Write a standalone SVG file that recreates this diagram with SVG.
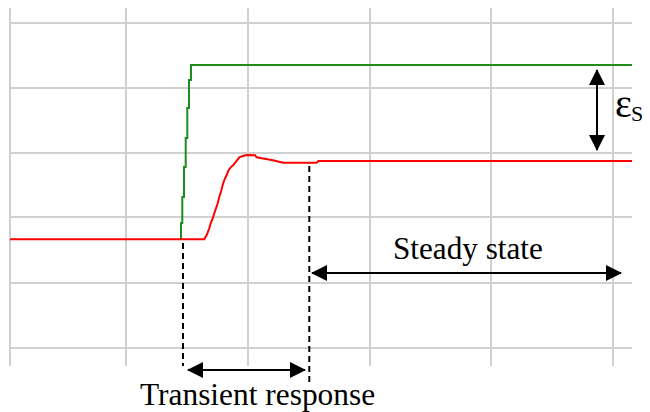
<svg xmlns="http://www.w3.org/2000/svg" width="650" height="412" viewBox="0 0 650 412">
<style>
.grid{stroke:#d0d0d0;stroke-width:2;fill:none}
.sig{fill:none;stroke-width:2;stroke-linejoin:miter}
.dash{stroke:#000;stroke-width:2;stroke-dasharray:6,4;fill:none}
.arr{stroke:#000;stroke-width:2;fill:none;marker-start:url(#ah);marker-end:url(#ah)}
.t{font-family:"Liberation Serif","Times New Roman",serif;fill:#000}
</style>
<defs>
<marker id="ah" viewBox="0 0 16 16" markerWidth="16" markerHeight="16" refX="15" refY="8" orient="auto-start-reverse" markerUnits="userSpaceOnUse">
<path d="M0,0 L16,8 L0,16 Z" fill="#000"/>
</marker>
</defs>
<rect width="650" height="412" fill="#fff"/>
<g id="grid" class="grid">
<path d="M10,23H632M10,88H632M10,153H632M10,217H632M10,283H632M10,348H632"/>
<path d="M10,8V366M126,8V366M248,8V366M370,8V366M491,8V366M613,8V366"/>
</g>
<g id="setpoint">
<path class="sig" stroke="#1e8c1e" d="M181,239V223H182.3V197H184V167H185.7V138H187.3V108H189V80H191V65H632"/>
</g>
<g id="response">
<path class="sig" stroke="#ff0000" d="M10,239.3H204.3L206.7,235L209.3,228.3L210.7,223.3L212.7,218.3L214.3,213.3L216,208.3L217.7,203.3L219.3,196.7L221,191.7L222.7,185L224.3,180L226.7,175L228.3,170.7L230.7,167.3L233.3,165L236,161.7L239.3,157.3L242.7,156L246.7,155L255,155.3L256.7,157.3L261.7,158.3L271.7,160L283.3,162.7L316.7,162.7L318.3,161H632"/>
</g>
<g id="connectors">
<path class="dash" d="M183,243V366"/>
<path class="dash" d="M309.3,166V385"/>
<path class="arr" d="M188,370H305"/>
<path class="arr" d="M312,273H621"/>
<path class="arr" d="M597,70V150"/>
</g>
<g id="labels">
<text class="t" x="615" y="117" font-size="40">ε</text>
<text class="t" x="631" y="121" font-size="22">S</text>
<text class="t" x="140" y="405" font-size="31.4">Transient response</text>
<text class="t" x="393" y="259" font-size="31.2">Steady state</text>
</g>
</svg>
